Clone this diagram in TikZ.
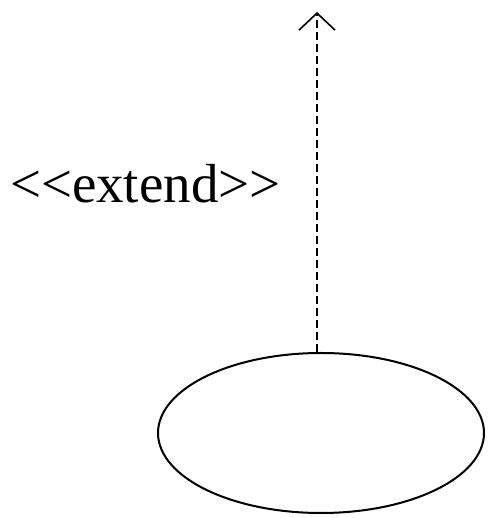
\documentclass[tikz,border=0pt]{standalone}
\usepackage{fontspec}
\setmainfont{Liberation Serif}
\usetikzlibrary{arrows.meta,positioning,shapes.geometric}

\begin{document}
\begin{tikzpicture}[
  x=1pt, y=1pt, line width=2pt,
  usecase/.style={draw,ellipse,minimum width=326pt,minimum height=160pt,inner sep=0pt},
  extarrow/.style={-{Straight Barb[length=17pt,width=36pt]},dash pattern=on 8pt off 4pt,line width=1.6pt},
  stereo/.style={font=\fontsize{55}{66}\selectfont,inner sep=0pt},
]
\useasboundingbox (0,0) rectangle (500,518);

% use case and its extension
\node[usecase] (use) at (321,85) {};
\coordinate (tip) at (317,506);
\draw[extarrow] (tip |- use.north) -- (tip);

% stereotype label
\node[stereo,anchor=base west] (ext) at (9,315) {<\kern0pt<extend>\kern0pt>};
\end{tikzpicture}
\end{document}
